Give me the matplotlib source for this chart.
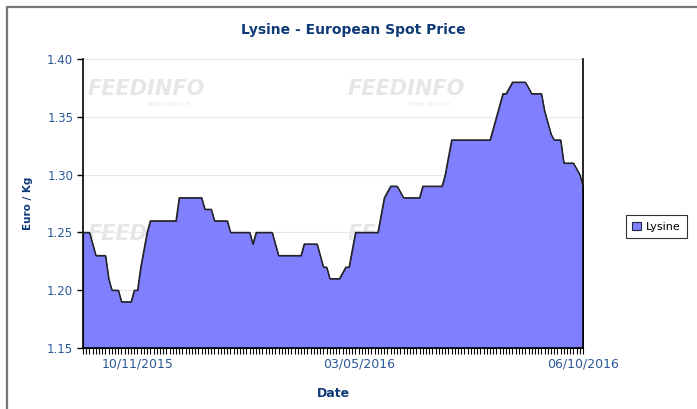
import numpy as np
import matplotlib.pyplot as plt
from matplotlib.patches import Rectangle

# Lysine spot price (Euro / Kg), as runs of equal values
levels = [1.25, 1.24, 1.23, 1.21, 1.20, 1.19, 1.20, 1.22, 1.235, 1.25,
          1.26, 1.28, 1.27, 1.26, 1.25, 1.24, 1.25, 1.24, 1.23, 1.24,
          1.23, 1.22, 1.21, 1.215, 1.22, 1.235, 1.25, 1.265, 1.28, 1.285,
          1.29, 1.285, 1.28, 1.29, 1.30, 1.315, 1.33, 1.34, 1.35, 1.36,
          1.37, 1.375, 1.38, 1.375, 1.37, 1.355, 1.345, 1.335, 1.33, 1.31,
          1.305, 1.30, 1.29]
runs = [3, 1, 4, 1, 3, 4, 2, 1, 1, 1,
        9, 8, 3, 5, 7, 1, 6, 1, 8, 5,
        1, 2, 4, 1, 2, 1, 8, 1, 1, 1,
        3, 1, 6, 7, 1, 1, 13, 1, 1, 1,
        2, 1, 5, 1, 4, 1, 1, 1, 3, 4,
        1, 1, 1]
date_labels = ["10/11/2015", "03/05/2016", "06/10/2016"]
date_pos = [17, 86, 156]
yticks = [1.15, 1.20, 1.25, 1.30, 1.35, 1.40]

price = np.repeat(levels, runs)
x = np.arange(len(price))

navy = "#0f3a78"
tick_blue = "#2b5797"

fig = plt.figure(figsize=(6.97, 4.09), dpi=100)
fig.patches.append(Rectangle((7 / 697, -0.1), 1.2, (409 - 7) / 409 + 0.1,
                             transform=fig.transFigure, fill=False,
                             edgecolor="#777777", linewidth=1.6))

ax = fig.add_axes([83 / 697, 1 - 348 / 409, 500 / 697, 289 / 409])

# watermark
for wx, wy in [(0.01, 0.93), (0.53, 0.93), (0.01, 0.43), (0.53, 0.43)]:
    ax.text(wx, wy, "FEEDINFO", transform=ax.transAxes, fontsize=15,
            style="italic", fontweight="bold", color="#e6e6e6",
            va="top", ha="left", zorder=0)
    ax.text(wx + 0.12, wy - 0.08, "NEWS SERVICE", transform=ax.transAxes,
            fontsize=4, style="italic", color="#e6e6e6", va="top", zorder=0)

ax.fill_between(x, price, 1.15, color="#8080ff", zorder=2, label="Lysine",
                edgecolor="#222244", linewidth=0.8)
ax.plot(x, price, color="#222222", linewidth=0.9, zorder=3)

ax.set_xlim(0, len(price) - 1)
ax.set_ylim(1.15, 1.40)
ax.set_yticks(yticks)
ax.set_yticklabels([f"{v:.2f}" for v in yticks])
ax.grid(axis="y", color="#e8e8e8", linewidth=0.8, zorder=1)
ax.set_axisbelow(True)

ax.set_xticks(date_pos)
ax.set_xticklabels(date_labels)
ax.set_xticks(x, minor=True)
ax.tick_params(axis="x", which="minor", length=4, width=0.8, color="black")
ax.tick_params(axis="x", which="major", length=4, width=0.8, pad=3,
               labelsize=9, labelcolor=tick_blue)
ax.tick_params(axis="y", length=4, width=1, labelsize=8.5, labelcolor=tick_blue,
               pad=3)

ax.spines["top"].set_visible(False)
for s in ["left", "bottom", "right"]:
    ax.spines[s].set_color("black")
    ax.spines[s].set_linewidth(1.2)

ax.set_xlabel("Date", fontsize=9, fontweight="bold", color=navy, labelpad=12)
ax.set_ylabel("Euro / Kg", fontsize=7.5, fontweight="bold", color=navy,
              labelpad=10)
fig.text(353 / 697, 1 - 30 / 409, "Lysine - European Spot Price",
         fontsize=10, fontweight="bold", color=navy, ha="center", va="center")

leg = ax.legend(loc="center left", bbox_to_anchor=(1.085, 0.42), fontsize=8,
                frameon=True, fancybox=False, handlelength=0.8,
                handleheight=0.8, handletextpad=0.4, borderpad=0.6,
                borderaxespad=0.0)
leg.get_frame().set_edgecolor("black")
leg.get_frame().set_linewidth(0.8)

fig.savefig("out.png", dpi=100)
